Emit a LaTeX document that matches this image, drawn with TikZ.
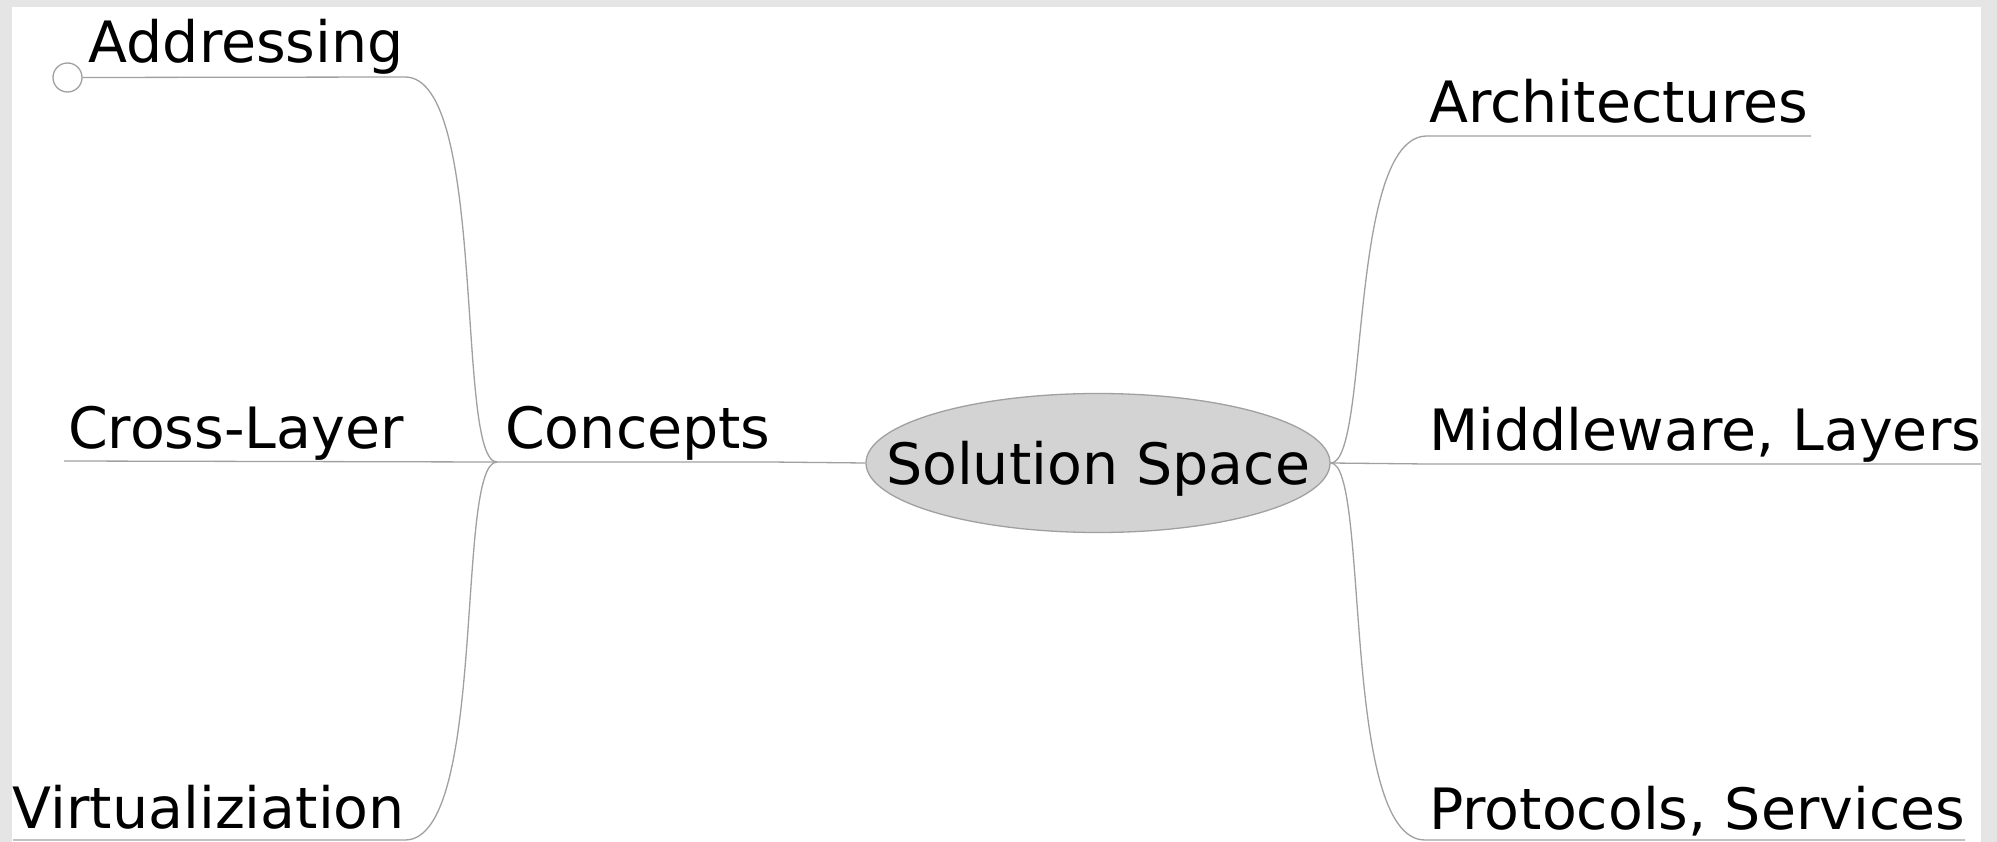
\documentclass[tikz,border=0pt]{standalone}
\usepackage{fontspec}
\setmainfont{DejaVu Sans}
\usetikzlibrary{shapes.geometric}
\definecolor{bordergrey}{RGB}{229,229,229}
\definecolor{linegrey}{RGB}{160,160,160}
\definecolor{ellfill}{RGB}{211,211,211}
\begin{document}
\begin{tikzpicture}[x=1pt,y=-1pt,
  lbl/.style={inner sep=0pt, font=\fontsize{57}{62}\selectfont},
  conn/.style={draw=linegrey, line width=1.3pt},
]
\useasboundingbox (0,0) rectangle (1997,842);
\fill[bordergrey] (0,0) rectangle (1997,842);
\fill[white] (12,7) rectangle (1981,842);

% central topic
\node[ellipse, fill=ellfill, draw=linegrey, line width=1.3pt, minimum width=464pt, minimum height=139pt, inner sep=0pt] (ss) at (1098,463) {};
\node[lbl, anchor=base, yshift=-21pt] (sslabel) at (ss.center) {Solution Space};

% left: Concepts
\coordinate (cb) at (497,462);
\coordinate (cend) at (770,462);
\node[lbl, anchor=base west] (concepts) at (505,448) {Concepts};
\draw[conn] (cb) -- (cend) -- (ss.west);

% Addressing
\node[lbl, anchor=base east] (addr) at (404,63) {Addressing};
\node[circle, draw=linegrey, fill=white, line width=1.3pt, minimum size=29pt, inner sep=0pt] (addrknob) at (67.5,77.5) {};
\coordinate (addrR) at (405,77);
\draw[conn] (cb) .. controls (455,462) and (488,77) .. (addrR) -- (addrknob.east);

% Cross-Layer
\node[lbl, anchor=base east] (cross) at (404,448) {Cross-Layer};
\coordinate (crossL) at (64,461);
\draw[conn] (cb) -- (crossL);

% Virtualiziation
\node[lbl, anchor=base east] (virt) at (405,828) {Virtualiziation};
\coordinate (virtR) at (405,840);
\coordinate (virtL) at (13,840);
\draw[conn] (cb) .. controls (455,462) and (488,840) .. (virtR) -- (virtL);

% right: Architectures
\node[lbl, anchor=base west] (arch) at (1429,123) {Architectures};
\coordinate (archL) at (1427,136);
\coordinate (archR) at (1811,136);
\draw[conn] (ss.east) .. controls (1370,463) and (1347,136) .. (archL) -- (archR);

% Middleware, Layers
\node[lbl, anchor=base west] (mid) at (1429,450) {Middleware, Layers};
\coordinate (midL) at (1427,464);
\coordinate (midR) at (1981,464);
\draw[conn] (ss.east) -- (midL) -- (midR);

% Protocols, Services
\node[lbl, anchor=base west] (prot) at (1429,829) {Protocols, Services};
\coordinate (protL) at (1425,840);
\coordinate (protR) at (1965,840);
\draw[conn] (ss.east) .. controls (1370,463) and (1340,840) .. (protL) -- (protR);
\end{tikzpicture}
\end{document}
